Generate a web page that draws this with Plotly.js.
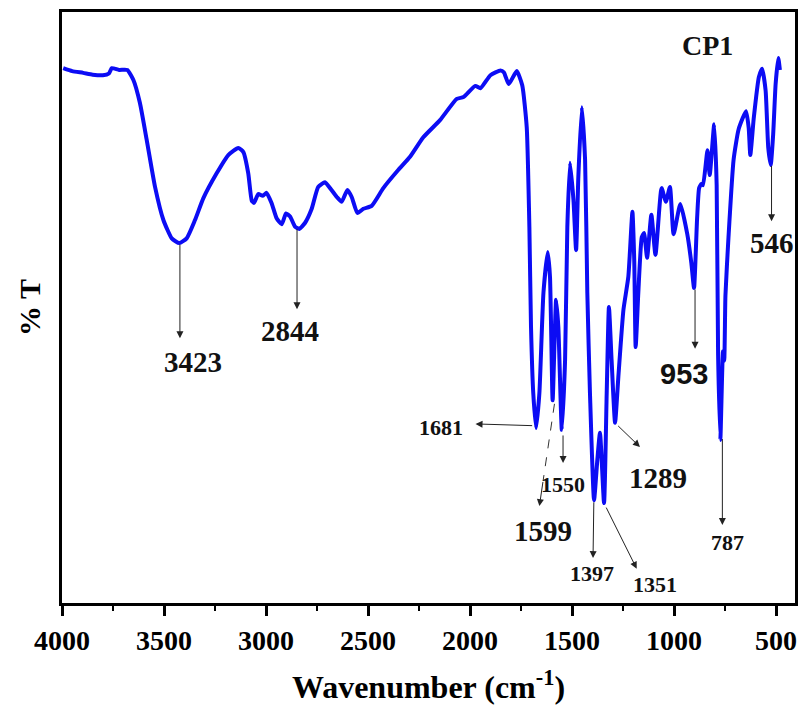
<!DOCTYPE html>
<html><head><meta charset="utf-8">
<script src="https://cdn.plot.ly/plotly-3.0.1.min.js"></script>
<style>html,body{margin:0;padding:0;background:#fff}#chart{width:804px;height:713px}</style>
</head><body><div id="chart"></div>
<script>
// FTIR spectrum of CP1
const wavenumber = [3994,3950,3896,3850,3800,3770,3756,3720,3680,3650,3618,3585,3544,3503,3462,3425,3389,3348,3307,3242,3185,3136,3111,3087,3070,3059,3038,3016,2997,2972,2948,2923,2902,2882,2858,2837,2809,2776,2744,2711,2686,2653,2629,2601,2580,2552,2523,2482,2425,2351,2294,2229,2147,2065,2032,1974,1949,1900,1851,1834,1810,1771,1744,1722,1709,1701,1690,1676,1660,1640,1619,1608,1595,1578,1567,1550,1534,1523,1510,1493,1480,1469,1452,1436,1425,1412,1392,1376,1363,1343,1330,1319,1306,1289,1273,1248,1224,1204,1195,1188,1175,1158,1147,1132,1111,1091,1061,1040,1020,1002,969,935,915,902,887,877,866,858,836,825,803,791,784,773,760,754,748,733,708,683,647,634,626,609,584,568,551,538,526,514,502,489,481];
const transmittance = [90.5,90.0,89.7,89.4,89.3,89.6,90.5,90.2,90.2,88.5,84.6,78.4,70.4,64.8,61.7,60.9,61.7,64.8,68.5,72.7,75.8,77.0,76.3,72.7,68.1,67.7,69.2,68.9,69.4,67.6,65.1,64.1,65.9,65.4,63.7,63.3,64.3,66.7,70.4,71.2,70.2,68.7,67.9,69.9,68.7,66.0,66.7,67.2,70.2,73.3,75.5,78.8,81.7,85.3,85.6,87.5,87.1,89.3,90.1,89.8,87.8,90.0,87.6,80.5,63.6,46.7,35.5,29.6,35.5,52.5,59.4,55.2,34.3,51.3,46.7,29.3,41.1,63.6,74.5,68.2,59.7,72.1,83.9,75.0,52.5,35.5,17.4,24.2,28.8,16.9,35.5,50.1,41.1,30.5,38.2,49.6,55.2,66.2,58.0,43.3,52.5,61.9,62.6,58.4,65.7,58.9,70.2,67.9,70.4,62.4,67.5,62.4,57.5,53.3,65.0,70.2,70.9,70.7,76.6,72.4,81.0,70.7,42.1,27.6,42.6,41.0,52.0,61.9,75.0,80.2,83.2,80.4,75.8,82.1,89.0,90.4,86.7,77.0,74.1,79.3,87.8,92.2,90.2];

const sampleName = 'CP1';
const xTitle = 'Wavenumber (cm<sup>-1</sup>)';
const yTitle = '% T';
const xTickValues = [4000,3500,3000,2500,2000,1500,1000,500];
const xTickLabels = ['4000','3500','3000','2500','2000','1500','1000','500'];
const peakLabels = ['3423','2844','1681','1550','1599','1397','1351','1289','953','787','546'];

// presentation: arrow tail (at band), arrow tip, label position, font size, family, dashed
const labelLayout = {
  '3423': {tail:[3422,60.9], tip:[3422,44.8], at:[3358,40.8], size:29},
  '2844': {tail:[2848,63.5], tip:[2848,49.7], at:[2882,46.0], size:29},
  '1681': {tail:[1688,30.0], tip:[1973,30.3], at:[2140,29.7], size:22},
  '1550': {tail:[1544,28.6], tip:[1544,23.7], at:[1544,20.1], size:22},
  '1599': {tail:[1586,33.7], tip:[1660,16.4], at:[1643,12.1], size:29, dash:true},
  '1397': {tail:[1393,17.3], tip:[1397,7.6], at:[1402,5.0], size:22},
  '1351': {tail:[1336,16.4], tip:[1183,5.8], at:[1093,3.1], size:22},
  '1289': {tail:[1281,30.2], tip:[1167,26.4], at:[1079,21.2], size:29},
  '953':  {tail:[897,53.3], tip:[897,43.0], at:[952,38.7], size:29, sans:true},
  '787':  {tail:[763,28.0], tip:[763,13.2], at:[739,10.2], size:22},
  '546':  {tail:[522,74.2], tip:[522,64.6], at:[522,60.9], size:29}
};

const serif = '"Liberation Serif", "Times New Roman", Times, serif';
const sans = '"Liberation Sans", Arial, sans-serif';
const annotations = [];
const shapes = [];
peakLabels.forEach(function(lbl){
  const L = labelLayout[lbl];
  let tail = L.tail;
  if (L.dash) {
    const fx = L.tail[0] + (L.tip[0]-L.tail[0])*0.75;
    const fy = L.tail[1] + (L.tip[1]-L.tail[1])*0.75;
    shapes.push({type:'line', xref:'x', yref:'y', x0:L.tail[0], y0:L.tail[1], x1:fx, y1:fy,
      line:{color:'#333', width:1, dash:'dash'}});
    tail = [fx, fy];
  }
  annotations.push({x:L.tip[0], y:L.tip[1], ax:tail[0], ay:tail[1], axref:'x', ayref:'y', text:'',
    showarrow:true, arrowhead:2, arrowsize:1.4, arrowwidth:1, arrowcolor:'#222', standoff:0});
  annotations.push({x:L.at[0], y:L.at[1], xref:'x', yref:'y', text:lbl, showarrow:false,
    font:{family: L.sans ? sans : serif, size:L.size, color:'#111', weight:'bold'}});
});
annotations.push({x:838, y:94.4, xref:'x', yref:'y', text:sampleName, showarrow:false,
  font:{family:serif, size:28, color:'#111', weight:'bold'}});

const trace = {
  x: wavenumber, y: transmittance, type:'scatter', mode:'lines',
  line:{color:'#0c0cf4', width:4, shape:'spline', smoothing:0.5},
  hoverinfo:'skip'
};

const layout = {
  width:804, height:713,
  margin:{l:62, r:9, t:12, b:110},
  paper_bgcolor:'#ffffff', plot_bgcolor:'#ffffff',
  font:{family:serif, color:'#000', weight:'bold'},
  showlegend:false,
  xaxis:{
    range:[4000,407], showgrid:false, zeroline:false,
    showline:true, mirror:true, linecolor:'#000', linewidth:3,
    ticks:'outside', ticklen:10, tickwidth:3, tickcolor:'#000',
    tickmode:'array', tickvals:xTickValues, ticktext:xTickLabels,
    minor:{tickmode:'linear', dtick:250, tick0:250, ticks:'outside', ticklen:5, tickwidth:2, tickcolor:'#000'},
    tickfont:{family:serif, size:28, color:'#000', weight:'bold'},
    title:{text:xTitle, font:{family:serif, size:32, color:'#000', weight:'bold'}, standoff:22}
  },
  yaxis:{
    range:[0,100], showgrid:false, zeroline:false,
    showline:true, mirror:true, linecolor:'#000', linewidth:3,
    ticks:'', showticklabels:false,
    title:{text:yTitle, font:{family:serif, size:30, color:'#000', weight:'bold'}, standoff:10}
  },
  annotations: annotations,
  shapes: shapes
};

Plotly.newPlot('chart', [trace], layout, {staticPlot:true, displayModeBar:false});
</script>
</body></html>
